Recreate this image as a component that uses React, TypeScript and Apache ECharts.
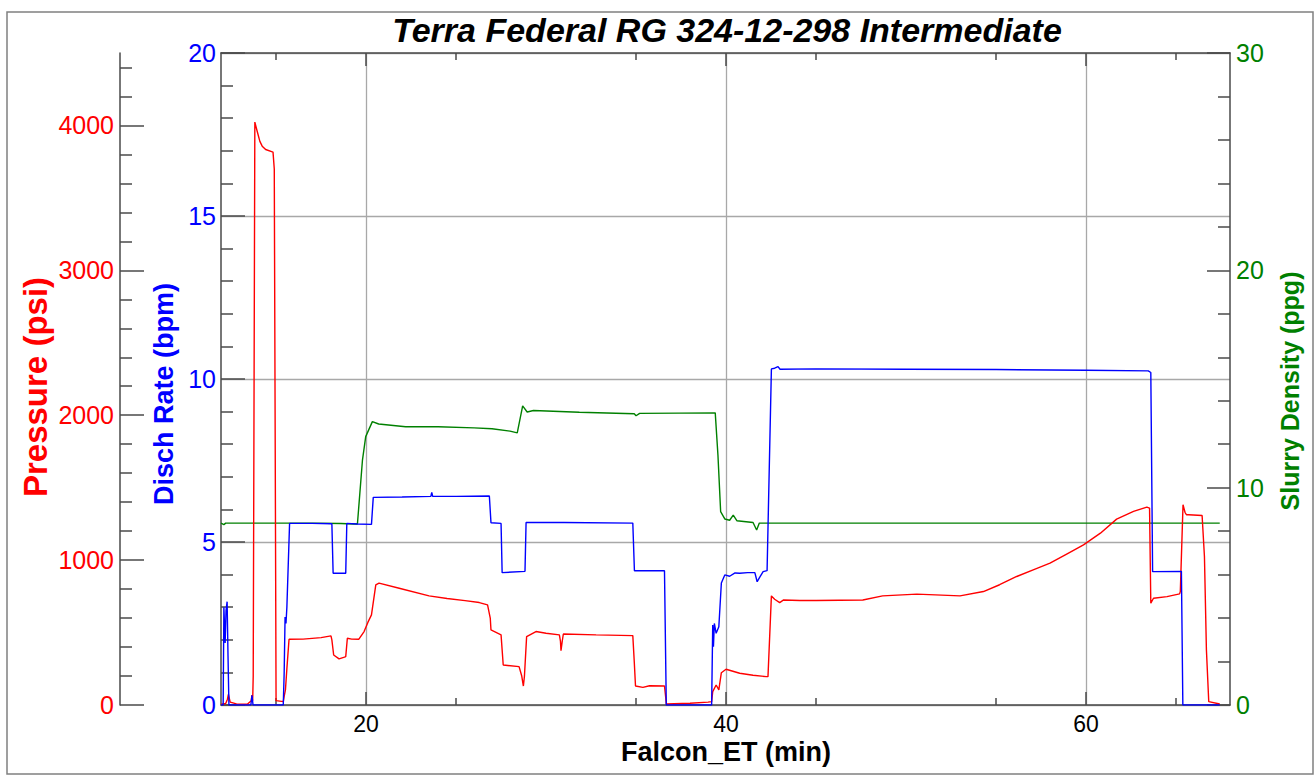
import React, { useEffect, useRef } from "react";
import * as echarts from "echarts";

const X_MIN = 11.94;
const X_MAX = 68;

const xTickLabels = [20, 40, 60];
const xMinorTicks = [15, 25, 35, 45, 55, 65];
const rateTickLabels = [0, 5, 10, 15, 20];
const pressureTickLabels = [0, 1000, 2000, 3000, 4000];
const pressureMinorTicks = [200, 400, 600, 800, 1200, 1400, 1600, 1800, 2200, 2400, 2600, 2800, 3200, 3400, 3600, 3800, 4200, 4400];
const densityTickLabels = [0, 10, 20, 30];

// Pressure (psi)
const pressureTime = [11.94, 12.2, 12.3, 12.35, 12.45, 12.8, 13.4, 13.62, 13.66, 13.7, 13.73, 13.82, 13.95, 14.1, 14.23, 14.42, 14.83, 14.9, 15.0, 15.4, 15.45, 15.52, 15.6, 15.72, 16.5, 17.5, 18.05, 18.1, 18.2, 18.5, 18.8, 18.87, 18.96, 19.2, 19.6, 19.89, 20.1, 20.3, 20.54, 20.72, 21.84, 23.5, 24.5, 25.5, 26.29, 26.75, 26.9, 26.94, 27.5, 27.62, 28.5, 28.65, 28.74, 28.8, 28.92, 29.44, 30.0, 30.74, 30.8, 30.83, 30.9, 30.96, 32.78, 34.82, 34.9, 34.97, 35.38, 35.75, 36.58, 36.65, 36.68, 38.0, 39.0, 39.2, 39.26, 39.45, 39.6, 39.74, 40.0, 40.76, 41.5, 42.24, 42.33, 42.52, 42.7, 42.98, 43.2, 44.1, 45.0, 47.6, 48.7, 50.6, 53.0, 54.3, 55.2, 56.15, 57.1, 58.0, 58.9, 59.86, 60.8, 61.7, 62.64, 63.38, 63.53, 63.6, 63.75, 64.5, 65.2, 65.24, 65.39, 65.5, 65.58, 65.7, 66.45, 66.58, 66.69, 66.82, 67.43];
const pressureValues = [5, 10, 40, 74, 20, 8, 5, 30, 69, 30, 200, 4023, 3960, 3890, 3857, 3834, 3816, 3700, 30, 23, 60, 104, 250, 454, 455, 465, 477, 450, 345, 318, 330, 334, 461, 455, 454, 507, 570, 622, 829, 841, 806, 753, 735, 720, 707, 691, 600, 518, 484, 276, 265, 200, 131, 200, 472, 507, 495, 484, 440, 375, 440, 490, 484, 479, 300, 131, 122, 133, 131, 50, 7, 12, 20, 23, 92, 138, 104, 223, 247, 219, 205, 196, 196, 753, 730, 707, 725, 721, 721, 725, 753, 765, 753, 783, 830, 887, 935, 979, 1040, 1105, 1186, 1283, 1336, 1366, 1359, 703, 737, 748, 767, 783, 1382, 1330, 1313, 1313, 1308, 1025, 380, 23, 7];

// Disch Rate (bpm)
const rateTime = [11.94, 12.06, 12.1, 12.17, 12.22, 12.28, 12.33, 12.38, 13.6, 13.66, 13.72, 15.4, 15.45, 15.5, 15.55, 15.6, 15.75, 17.0, 18.1, 18.17, 18.87, 18.93, 19.5, 20.3, 20.4, 22.0, 23.6, 23.65, 23.7, 25.0, 26.85, 26.94, 27.5, 27.56, 28.83, 28.89, 31.0, 34.82, 34.91, 36.58, 36.68, 39.2, 39.26, 39.3, 39.35, 39.45, 39.6, 39.74, 39.93, 40.2, 40.5, 40.76, 41.2, 41.6, 41.73, 41.85, 42.06, 42.28, 42.52, 42.7, 42.89, 43.0, 45.0, 50.0, 55.0, 60.0, 63.46, 63.6, 63.7, 65.3, 65.38, 67.43];
const rateValues = [0, 0, 3.0, 1.9, 2.9, 3.17, 1.5, 0, 0, 0.3, 0, 0, 1.0, 2.7, 2.5, 3.0, 5.57, 5.57, 5.56, 4.04, 4.04, 5.57, 5.55, 5.54, 6.37, 6.38, 6.4, 6.52, 6.4, 6.4, 6.41, 5.59, 5.57, 4.06, 4.1, 5.6, 5.6, 5.58, 4.12, 4.12, 0, 0, 2.45, 1.79, 2.5, 2.2, 2.4, 3.74, 3.99, 3.95, 4.05, 4.04, 4.06, 4.06, 3.78, 3.9, 4.09, 4.12, 10.31, 10.33, 10.38, 10.3, 10.31, 10.3, 10.29, 10.27, 10.25, 10.2, 4.09, 4.1, 0, 0];

// Slurry Density (ppg)
const densityTime = [11.94, 12.1, 12.2, 17.0, 18.6, 19.3, 19.52, 19.8, 19.98, 20.35, 20.7, 22.2, 24.0, 26.0, 27.0, 28.0, 28.4, 28.7, 28.95, 29.3, 31.85, 34.9, 35.0, 35.2, 37.4, 39.4, 39.55, 39.7, 39.93, 40.2, 40.4, 40.6, 41.5, 41.7, 41.85, 67.43];
const densityValues = [8.37, 8.3, 8.37, 8.37, 8.35, 8.33, 8.33, 11.27, 12.35, 13.04, 12.93, 12.8, 12.8, 12.75, 12.71, 12.6, 12.52, 13.76, 13.48, 13.55, 13.47, 13.4, 13.31, 13.42, 13.43, 13.44, 11.5, 8.9, 8.56, 8.5, 8.74, 8.48, 8.4, 8.05, 8.37, 8.37];

const zip = (t: number[], v: number[]) => t.map((x, i) => [x, v[i]]);

const FONT = "'Liberation Sans', Arial, sans-serif";
const AXIS_COLOR = "#4a4a4a";
const GRID_COLOR = "#a8a8a8";
const RED = "#ff0000";
const BLUE = "#0000ff";
const GREEN = "#008000";
const plain = (v: number) => String(v);

export default function App() {
  const ref = useRef<HTMLDivElement>(null);
  useEffect(() => {
    if (!ref.current) return;
    const chart = echarts.init(ref.current, null, { renderer: "svg" });
    const baseX = {
      type: "value",
      gridIndex: 0,
      min: X_MIN,
      max: X_MAX,
      axisLine: { onZero: false, show: false },
      axisLabel: { show: false },
      splitLine: { show: false },
      axisTick: { show: false },
    };
    const baseRed = {
      type: "value",
      position: "left",
      offset: 101,
      min: 0,
      max: 4500,
      splitLine: { show: false },
    };
    chart.setOption({
      animation: false,
      backgroundColor: "#ffffff",
      grid: { left: 221, right: 84, top: 53, bottom: 72, containLabel: false },
      graphic: [
        {
          type: "rect",
          z: -10,
          shape: { x: 7, y: 12, width: 1306, height: 762 },
          style: { fill: "none", stroke: "#808080", lineWidth: 1.5 },
        },
        {
          type: "text",
          x: 727,
          y: 30,
          style: {
            text: "Terra Federal RG 324-12-298 Intermediate",
            fill: "#000",
            font: `italic bold 34px ${FONT}`,
            textAlign: "center",
            textVerticalAlign: "middle",
          },
        },
        {
          type: "text",
          x: 726,
          y: 752,
          style: {
            text: "Falcon_ET (min)",
            fill: "#000",
            font: `bold 27px ${FONT}`,
            textAlign: "center",
            textVerticalAlign: "middle",
          },
        },
        {
          type: "text",
          x: 35,
          y: 387,
          rotation: Math.PI / 2,
          style: {
            text: "Pressure (psi)",
            fill: RED,
            font: `bold 33px ${FONT}`,
            textAlign: "center",
            textVerticalAlign: "middle",
          },
        },
        {
          type: "text",
          x: 164,
          y: 394,
          rotation: Math.PI / 2,
          style: {
            text: "Disch Rate (bpm)",
            fill: BLUE,
            font: `bold 27px ${FONT}`,
            textAlign: "center",
            textVerticalAlign: "middle",
          },
        },
        {
          type: "text",
          x: 1290,
          y: 391,
          rotation: Math.PI / 2,
          style: {
            text: "Slurry Density (ppg)",
            fill: GREEN,
            font: `bold 25px ${FONT}`,
            textAlign: "center",
            textVerticalAlign: "middle",
          },
        },
      ],
      xAxis: [
        {
          ...baseX,
          position: "bottom",
          axisLine: { show: true, onZero: false, lineStyle: { color: AXIS_COLOR, width: 1.5 } },
          axisTick: { show: true, inside: true, length: 13, customValues: xTickLabels, lineStyle: { color: AXIS_COLOR, width: 1.5 } },
          axisLabel: { show: true, customValues: xTickLabels, formatter: plain, color: "#000", fontFamily: FONT, fontSize: 23, margin: 7 },
          splitLine: { show: true, lineStyle: { color: GRID_COLOR, width: 1.3 } },
        },
        {
          ...baseX,
          position: "bottom",
          axisTick: { show: true, inside: true, length: 7, customValues: xMinorTicks, lineStyle: { color: AXIS_COLOR, width: 1.5 } },
        },
        {
          ...baseX,
          position: "top",
          axisLine: { show: true, onZero: false, lineStyle: { color: AXIS_COLOR, width: 1.5 } },
          axisTick: { show: true, inside: true, length: 13, customValues: xTickLabels, lineStyle: { color: AXIS_COLOR, width: 1.5 } },
        },
        {
          ...baseX,
          position: "top",
          axisTick: { show: true, inside: true, length: 7, customValues: xMinorTicks, lineStyle: { color: AXIS_COLOR, width: 1.5 } },
        },
      ],
      yAxis: [
        {
          type: "value",
          position: "left",
          min: 0,
          max: 20,
          interval: 5,
          axisLine: { show: true, onZero: false, lineStyle: { color: AXIS_COLOR, width: 1.5 } },
          axisTick: { show: true, inside: true, length: 24, customValues: rateTickLabels, lineStyle: { color: AXIS_COLOR, width: 1.5 } },
          minorTick: { show: true, splitNumber: 5, length: 12, lineStyle: { color: AXIS_COLOR, width: 1.5 } },
          axisLabel: { color: BLUE, fontFamily: FONT, fontSize: 25, margin: 5, formatter: plain },
          splitLine: { show: true, lineStyle: { color: GRID_COLOR, width: 1.3 } },
        },
        {
          ...baseRed,
          axisLine: { show: true, onZero: false, lineStyle: { color: AXIS_COLOR, width: 1.5 } },
          axisTick: { show: true, inside: true, length: 24, customValues: pressureTickLabels, lineStyle: { color: AXIS_COLOR, width: 1.5 } },
          axisLabel: { show: true, customValues: pressureTickLabels, formatter: plain, color: RED, fontFamily: FONT, fontSize: 25, margin: 6 },
        },
        {
          ...baseRed,
          axisLine: { show: false, onZero: false },
          axisTick: { show: true, inside: true, length: 12, customValues: pressureMinorTicks, lineStyle: { color: AXIS_COLOR, width: 1.5 } },
          axisLabel: { show: false },
        },
        {
          type: "value",
          position: "right",
          min: 0,
          max: 30,
          interval: 10,
          axisLine: { show: true, onZero: false, lineStyle: { color: AXIS_COLOR, width: 1.5 } },
          axisTick: { show: true, inside: true, length: 23, customValues: densityTickLabels, lineStyle: { color: AXIS_COLOR, width: 1.5 } },
          minorTick: { show: true, splitNumber: 5, length: 12, lineStyle: { color: AXIS_COLOR, width: 1.5 } },
          axisLabel: { color: GREEN, fontFamily: FONT, fontSize: 25, margin: 6, formatter: plain },
          splitLine: { show: false },
        },
      ],
      series: [
        {
          name: "Slurry Density",
          type: "line",
          xAxisIndex: 0,
          yAxisIndex: 3,
          showSymbol: false,
          symbol: "none",
          data: zip(densityTime, densityValues),
          lineStyle: { color: GREEN, width: 1.4 },
          itemStyle: { color: GREEN },
        },
        {
          name: "Pressure",
          type: "line",
          xAxisIndex: 0,
          yAxisIndex: 1,
          showSymbol: false,
          symbol: "none",
          data: zip(pressureTime, pressureValues),
          lineStyle: { color: RED, width: 1.4 },
          itemStyle: { color: RED },
        },
        {
          name: "Disch Rate",
          type: "line",
          xAxisIndex: 0,
          yAxisIndex: 0,
          showSymbol: false,
          symbol: "none",
          data: zip(rateTime, rateValues),
          lineStyle: { color: BLUE, width: 1.4 },
          itemStyle: { color: BLUE },
        },
      ],
    });
    return () => chart.dispose();
  }, []);
  return (
    <div
      ref={ref}
      style={{ position: "fixed", left: 0, top: 0, width: 1314, height: 777, background: "#fff" }}
    />
  );
}
